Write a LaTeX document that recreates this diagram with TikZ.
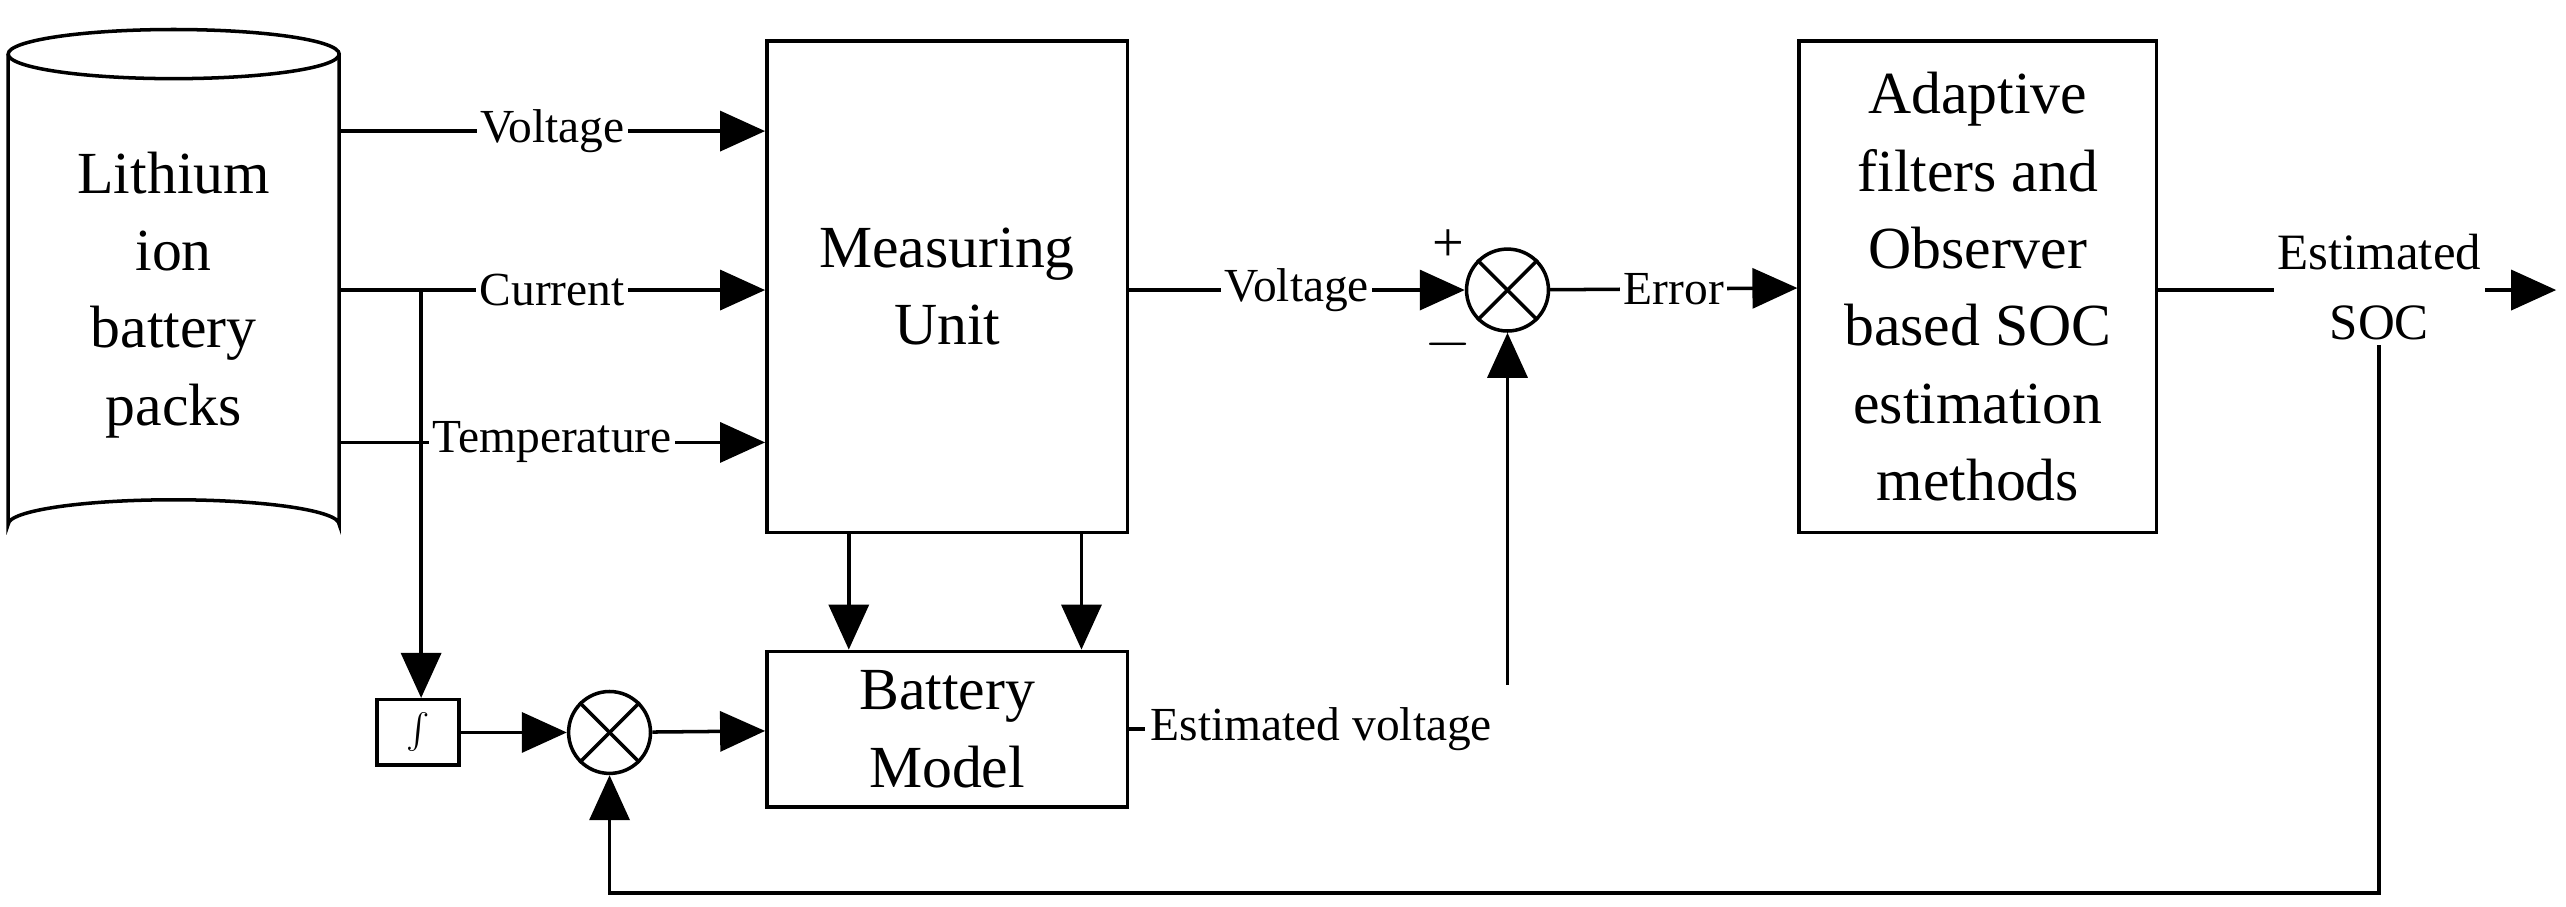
\documentclass[tikz,border=0pt]{standalone}
\usepackage{fontspec}
\setmainfont{Liberation Serif}
\usetikzlibrary{arrows.meta,calc}
\begin{document}
\begin{tikzpicture}[x=0.016386cm,y=-0.016386cm,line width=1pt,
  box/.style={draw,align=center,font=\fontsize{17}{22}\selectfont},
  sum/.style={draw,circle,minimum size=50*0.016386cm,inner sep=0pt},
  lbl/.style={fill=white,inner sep=1pt,font=\fontsize{13.5}{16}\selectfont},
  arr/.style={-{Triangle[length=0.45cm,width=0.4cm]}}]
\useasboundingbox (0,0) rectangle (1566,553);
% battery cylinder
\node[align=center,minimum width=202*0.016386cm,minimum height=317*0.016386cm,
  font=\fontsize{17}{22}\selectfont] (bat) at (106,180) {Lithium\\ion\\battery\\packs};
\draw (106,33) ellipse [x radius=101,y radius=15];
\draw (5,33) -- (5,320) arc[start angle=180,end angle=360,x radius=101,y radius=15] -- (207,33);
% blocks
\node[box,minimum width=220*0.016386cm,minimum height=300*0.016386cm] (mu) at (578,175) {Measuring\\Unit};
\node[box,minimum width=220*0.016386cm,minimum height=95*0.016386cm] (bm) at (578,445) {Battery\\Model};
\node[box,minimum width=218*0.016386cm,minimum height=300*0.016386cm] (af) at (1207,175) {Adaptive\\filters and\\Observer\\based SOC\\estimation\\methods};
\node[draw,minimum width=50*0.016386cm,minimum height=40*0.016386cm,inner sep=0pt] (int) at (255,447) {$\int$};
\node[sum] (s1) at (372,447) {};
\node[sum] (s2) at (920,177) {};
\foreach \s in {s1,s2}{
  \draw (\s.north west) -- (\s.south east);
  \draw (\s.north east) -- (\s.south west);}
\coordinate (out) at (1560,177);
\coordinate (ev) at (920,418);
% inputs to measuring unit
\draw[arr] (207,80) -- node[lbl]{Voltage} (mu.west |- 0,80);
\draw[arr] (207,177) -- node[lbl]{Current} (mu.west |- 0,177);
\draw[arr] (207,270) -- node[lbl]{Temperature} (mu.west |- 0,270);
\draw[arr] (257,177) -- (int.north -| 257,0);
\draw[arr] (mu.south -| 518,0) -- (bm.north -| 518,0);
\draw[arr] (mu.south -| 660,0) -- (bm.north -| 660,0);
\draw[arr] (int) -- (s1);
\draw[arr] (s1) -- (bm);
\draw (bm.east |- 0,445) -- ++(10,0) node[right,inner sep=1pt,font=\fontsize{13.5}{16}\selectfont]{Estimated voltage};
\draw[arr] (ev) -- (s2.south);
\draw[arr] (mu.east |- s2) -- node[lbl]{Voltage} (s2);
\node[font=\fontsize{16}{16}\selectfont] at (884,150) {+};
\node[font=\fontsize{16}{16}\selectfont] at (884,210) {$-$};
\draw[arr] (s2) -- node[lbl]{Error} (af);
\draw[arr] (af.east |- 0,177) -- (out);
\node[lbl,align=center,font=\fontsize{14.5}{20}\selectfont] (soc) at (1452,175) {Estimated\\SOC};
\draw[arr] (soc.south) -- (1452,545) -- (372,545) -- (s1.south);
\end{tikzpicture}
\end{document}
